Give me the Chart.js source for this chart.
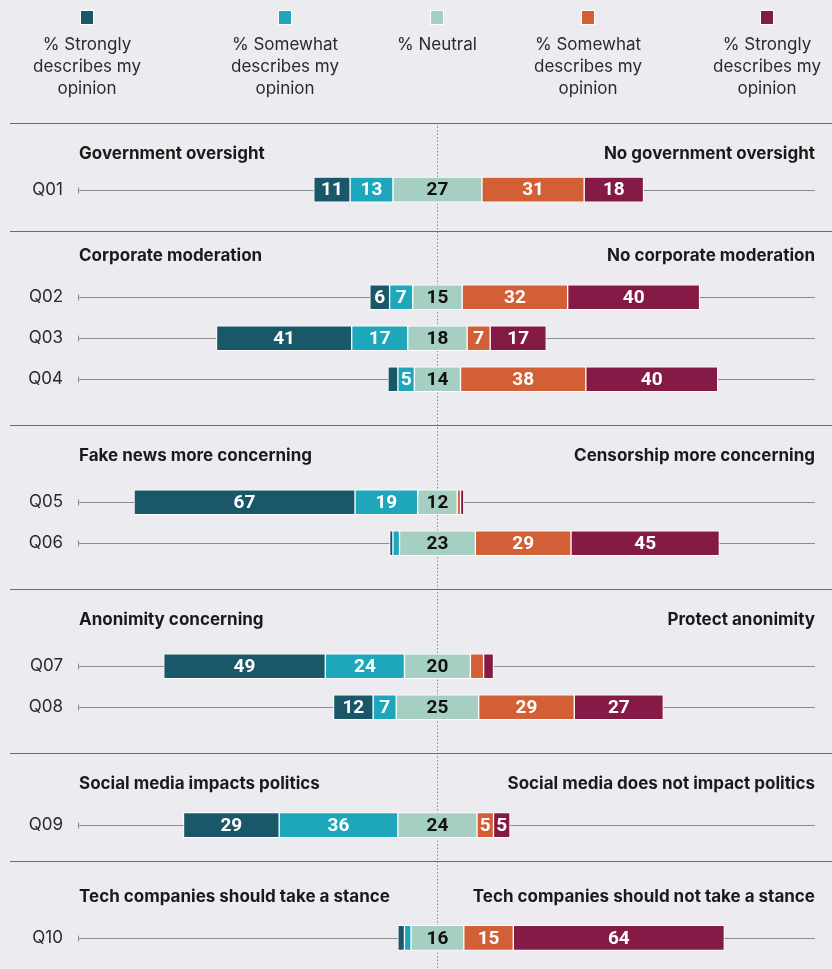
<!DOCTYPE html>
<html>
<head>
<meta charset="utf-8">
<script src="https://cdn.jsdelivr.net/npm/chart.js@4.4.1/dist/chart.umd.min.js"></script>
<style>
  html, body { margin: 0; padding: 0; background: #ececf0; overflow: hidden; }
  canvas { display: block; }
</style>
</head>
<body>
<canvas id="likert" width="832" height="969"></canvas>
<script>
var questions = ['Q01', 'Q02', 'Q03', 'Q04', 'Q05', 'Q06', 'Q07', 'Q08', 'Q09', 'Q10'];

var strongLeft    = [11,  6, 41,  3, 67,  1, 49, 12, 29,  2];
var somewhatLeft  = [13,  7, 17,  5, 19,  2, 24,  7, 36,  2];
var neutral       = [27, 15, 18, 14, 12, 23, 20, 25, 24, 16];
var somewhatRight = [31, 32,  7, 38,  1, 29,  4, 29,  5, 15];
var strongRight   = [18, 40, 17, 40,  1, 45,  3, 27,  5, 64];

var groupSizes = [1, 3, 2, 2, 1, 1];
var leftTitles = [
  'Government oversight',
  'Corporate moderation',
  'Fake news more concerning',
  'Anonimity concerning',
  'Social media impacts politics',
  'Tech companies should take a stance'
];
var rightTitles = [
  'No government oversight',
  'No corporate moderation',
  'Censorship more concerning',
  'Protect anonimity',
  'Social media does not impact politics',
  'Tech companies should not take a stance'
];

var legendLines = [
  ['% Strongly', 'describes my', 'opinion'],
  ['% Somewhat', 'describes my', 'opinion'],
  ['% Neutral'],
  ['% Somewhat', 'describes my', 'opinion'],
  ['% Strongly', 'describes my', 'opinion']
];

var colors = ['#1a5869', '#1ea6ba', '#a6cfc4', '#d25f35', '#851a46'];
var series = [strongLeft, somewhatLeft, neutral, somewhatRight, strongRight];

// the y axis is a run of thin category slots (8 per bar pitch);
// separators, titles and bars each take one slot
var titleGap = [6, 5, 6, 6, 6, 7];
var barGap   = [7, 8, 9, 9, 8, 8];
var tailGap  = [8, 9, 9, 9, 7, 6];
var BAR_STEP = 8;

var rows = [];
function pad(n) { for (var k = 0; k < n; k++) rows.push({ kind: 'gap' }); }
var q = 0;
groupSizes.forEach(function (n, g) {
  rows.push({ kind: 'sep' });
  pad(titleGap[g] - 1);
  rows.push({ kind: 'title', group: g });
  pad(barGap[g] - 1);
  for (var k = 0; k < n; k++) {
    if (k > 0) pad(BAR_STEP - 1);
    rows.push({ kind: 'bar', q: q++ });
  }
  pad(tailGap[g] - 1);
});

// floating segments, neutral centred on zero
function segments(s) {
  return rows.map(function (r) {
    if (r.kind !== 'bar') return null;
    var i = r.q;
    var start = -neutral[i] / 2 - somewhatLeft[i] - strongLeft[i];
    for (var j = 0; j < s; j++) start += series[j][i];
    return [start, start + series[s][i]];
  });
}

var FONT = 'Inter, Roboto, sans-serif';

var decorations = {
  id: 'decorations',
  beforeDatasetsDraw: function (chart) {
    var c = chart.ctx, xs = chart.scales.x, ys = chart.scales.y, area = chart.chartArea;
    var cx = Math.round(xs.getPixelForValue(0)) + 0.5;
    c.save();

    // dotted centre line
    var top = ys.getPixelForValue(0);
    c.strokeStyle = '#8a8a8a';
    c.lineWidth = 1;
    c.setLineDash([1.5, 2]);
    c.beginPath();
    c.moveTo(cx, top);
    c.lineTo(cx, chart.height);
    c.stroke();
    c.setLineDash([]);

    rows.forEach(function (r, idx) {
      var y = ys.getPixelForValue(idx);
      if (r.kind === 'sep') {
        var yy = Math.round(y) + 0.5;
        c.strokeStyle = '#6b6b6b';
        c.beginPath();
        c.moveTo(10, yy);
        c.lineTo(chart.width, yy);
        c.stroke();
      } else if (r.kind === 'title') {
        c.fillStyle = '#1a1a1a';
        c.font = 'bold 17px ' + FONT;
        c.textBaseline = 'middle';
        c.textAlign = 'left';
        c.fillText(leftTitles[r.group], area.left + 1, y);
        c.textAlign = 'right';
        c.fillText(rightTitles[r.group], area.right, y);
      } else if (r.kind === 'bar') {
        var yl = Math.round(y) + 0.5;
        c.strokeStyle = '#8c8c8c';
        c.beginPath();
        c.moveTo(area.left, yl);
        c.lineTo(area.right, yl);
        c.moveTo(area.left + 0.5, yl - 3);
        c.lineTo(area.left + 0.5, yl + 3);
        c.stroke();
        c.fillStyle = '#2a2a2a';
        c.font = '17px ' + FONT;
        c.textAlign = 'right';
        c.textBaseline = 'middle';
        c.fillText(questions[r.q], 63, y);
      }
    });
    c.restore();
  },
  afterDatasetsDraw: function (chart) {
    var c = chart.ctx, xs = chart.scales.x, ys = chart.scales.y;
    c.save();
    c.font = 'bold 19px Roboto, sans-serif';
    c.textAlign = 'center';
    c.textBaseline = 'middle';
    chart.data.datasets.forEach(function (ds, s) {
      ds.data.forEach(function (seg, idx) {
        if (!seg) return;
        var v = series[s][rows[idx].q];
        if (v < 5) return;
        c.fillStyle = s === 2 ? '#111111' : '#ffffff';
        c.fillText(String(v), xs.getPixelForValue((seg[0] + seg[1]) / 2), ys.getPixelForValue(idx) + 1);
      });
    });
    c.restore();
  },
  afterDraw: function (chart) {
    // legend: swatch above a centred multi-line caption
    var c = chart.ctx;
    var centres = [87, 285, 437, 588, 767];
    c.save();
    legendLines.forEach(function (lines, s) {
      var x = centres[s];
      c.fillStyle = colors[s];
      c.fillRect(x - 6, 11, 12, 13);
      c.strokeStyle = '#ffffff';
      c.lineWidth = 1;
      c.strokeRect(x - 6.5, 10.5, 13, 14);
      c.fillStyle = '#2a2a2a';
      c.font = '17px ' + FONT;
      c.textAlign = 'center';
      c.textBaseline = 'middle';
      lines.forEach(function (line, k) {
        c.fillText(line, x, 45 + k * 22);
      });
    });
    c.restore();
  }
};

new Chart(document.getElementById('likert').getContext('2d'), {
  type: 'bar',
  data: {
    labels: rows.map(function (r) { return r.kind === 'bar' ? questions[r.q] : ''; }),
    datasets: series.map(function (vals, s) {
      return {
        label: legendLines[s].join(' '),
        data: segments(s),
        backgroundColor: colors[s],
        borderColor: '#ffffff',
        borderWidth: 1,
        borderSkipped: false,
        barThickness: 25,
        grouped: false
      };
    })
  },
  options: {
    indexAxis: 'y',
    responsive: false,
    animation: false,
    events: [],
    layout: { padding: { left: 78, right: 17, top: 120.44, bottom: 2.9 } },
    scales: {
      x: { display: false, min: -109, max: 114.5 },
      y: { display: false }
    },
    plugins: {
      legend: { display: false },
      tooltip: { enabled: false }
    }
  },
  plugins: [decorations]
});
</script>
</body>
</html>
